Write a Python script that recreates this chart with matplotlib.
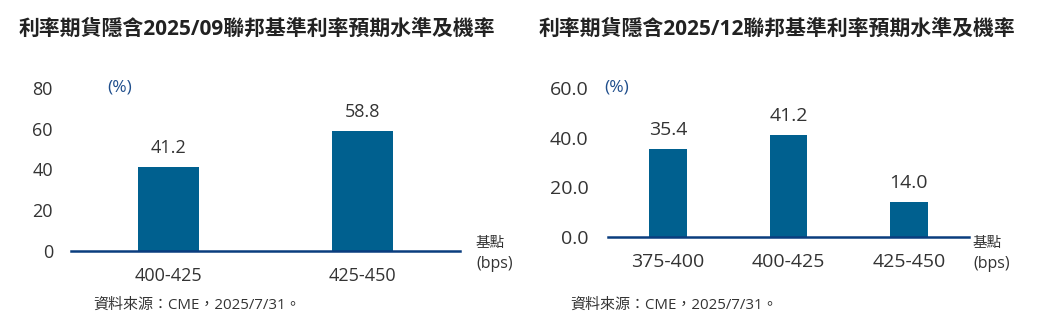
import matplotlib.pyplot as plt

plt.rcParams['font.family'] = ['Open Sans', 'Noto Sans CJK TC', 'DejaVu Sans']

# 2025/09 meeting
sep_ranges = ['400-425', '425-450']
sep_probs = [41.2, 58.8]
sep_ticks = [0, 20, 40, 60, 80]

# 2025/12 meeting
dec_ranges = ['375-400', '400-425', '425-450']
dec_probs = [35.4, 41.2, 14.0]
dec_ticks = [0, 20, 40, 60]

bar_color = '#00608F'
axis_color = '#0A3D7E'
text_color = '#333333'

W, H = 1039, 323
fig = plt.figure(figsize=(W / 100, H / 100), dpi=100)


def panel(rect, cats, vals, ticks, fmt, fs, ypad, xpad, lab_off):
    ax = fig.add_axes(rect)
    x = list(range(len(cats)))
    ax.bar(x, vals, width=0.315, color=bar_color, zorder=2)
    ax.set_xlim(-0.5, len(cats) - 0.5)
    ax.set_ylim(ticks[0], ticks[-1])
    ax.set_yticks(ticks)
    ax.set_yticklabels([fmt.format(t) for t in ticks])
    ax.set_xticks(x)
    ax.set_xticklabels(cats)
    for s in ['top', 'right', 'left']:
        ax.spines[s].set_visible(False)
    ax.spines['bottom'].set_color(axis_color)
    ax.spines['bottom'].set_linewidth(1.8)
    ax.spines['bottom'].set_zorder(3)
    ax.tick_params(axis='y', length=0, pad=ypad, labelsize=fs, labelcolor=text_color)
    ax.tick_params(axis='x', length=0, pad=xpad, labelsize=fs, labelcolor=text_color)
    for xi, v in zip(x, vals):
        ax.annotate(f'{v:.1f}', (xi, v), xytext=(0, lab_off), textcoords='offset points',
                    ha='center', va='bottom', fontsize=fs, color=text_color)
    return ax


panel([71 / W, 72 / H, 389 / W, 163 / H], sep_ranges, sep_probs, sep_ticks,
      '{:d}', 13, 13, 11.5, 7)
panel([608 / W, 86.3 / H, 361 / W, 148.7 / H], dec_ranges, dec_probs, dec_ticks,
      '{:.1f}', 14, 14, 12, 7)

fig.text(257 / W, 1 - 29 / H, '利率期貨隱含2025/09聯邦基準利率預期水準及機率',
         ha='center', va='center', fontsize=15, fontweight='bold', color='#222222')
fig.text(777 / W, 1 - 29 / H, '利率期貨隱含2025/12聯邦基準利率預期水準及機率',
         ha='center', va='center', fontsize=15, fontweight='bold', color='#222222')

for px, py in [(107, 87), (604, 87)]:
    fig.text(px / W, 1 - py / H, '(%)', ha='left', va='center', fontsize=12.5, color='#1F4E8C')

for px, py in [(476, 243), (973, 243)]:
    fig.text(px / W, 1 - py / H, '基點', ha='left', va='center', fontsize=10.5, color=text_color)
    fig.text(px / W, 1 - (py + 21) / H, '(bps)', ha='left', va='center', fontsize=11.5, color=text_color)

for px in [93, 570]:
    fig.text(px / W, 1 - 305 / H, '資料來源：CME，2025/7/31。', ha='left', va='center',
             fontsize=10.8, color=text_color)

fig.savefig('out.png', dpi=100)
